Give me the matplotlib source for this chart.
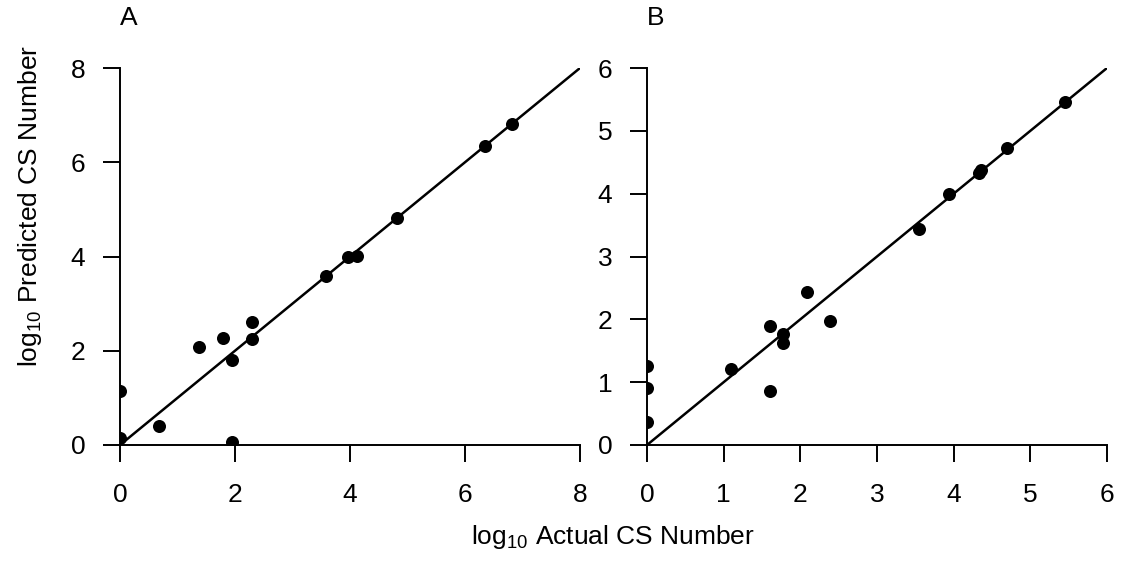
import numpy as np
import matplotlib
matplotlib.use("Agg")
import matplotlib.pyplot as plt

plt.rcParams["font.family"] = ["Liberation Sans", "DejaVu Sans"]
plt.rcParams["mathtext.default"] = "regular"

# Panel A data (log10 actual vs log10 predicted)
a_actual = [0, 0, 0.68, 1.38, 1.79, 1.95, 1.95, 2.30, 2.30, 3.58, 3.97, 4.13, 4.82, 6.35, 6.82]
a_pred = [0.15, 1.15, 0.41, 2.07, 2.26, 1.80, 0.07, 2.24, 2.61, 3.59, 3.99, 4.01, 4.81, 6.35, 6.81]
a_ticks = [0, 2, 4, 6, 8]

# Panel B data
b_actual = [0, 0, 0, 1.09, 1.60, 1.60, 1.78, 1.78, 2.09, 2.39, 3.55, 3.94, 4.33, 4.36, 4.69, 5.45]
b_pred = [1.25, 0.91, 0.36, 1.21, 1.89, 0.86, 1.76, 1.62, 2.44, 1.97, 3.43, 3.99, 4.33, 4.37, 4.72, 5.46]
b_ticks = [0, 1, 2, 3, 4, 5, 6]

W, H = 1126, 562
FS = 19
fig = plt.figure(figsize=(W / 100, H / 100), dpi=100)

# axes boxes in pixels: left, right, top, bottom
boxes = [(120, 580, 68, 445), (647, 1107, 68, 445)]
panels = [("A", a_actual, a_pred, a_ticks), ("B", b_actual, b_pred, b_ticks)]

for (x0, x1, y0, y1), (name, xs, ys, ticks) in zip(boxes, panels):
    ax = fig.add_axes([x0 / W, 1 - y1 / H, (x1 - x0) / W, (y1 - y0) / H])
    ax.axline((0, 0), slope=1, color="black", lw=1.8)
    ax.scatter(xs, ys, s=88, color="black", zorder=3, linewidths=0)
    ax.set_xlim(ticks[0], ticks[-1])
    ax.set_ylim(ticks[0], ticks[-1])
    ax.set_xticks(ticks)
    ax.set_yticks(ticks)
    for side in ["top", "right"]:
        ax.spines[side].set_visible(False)
    for side in ["left", "bottom"]:
        ax.spines[side].set_linewidth(1.4)
    ax.tick_params(direction="out", length=12, width=1.4, labelsize=FS)
    ax.tick_params(axis="x", pad=15)
    ax.tick_params(axis="y", pad=13)
    fig.text(x0 / W, 1 - 6 / H, name, ha="left", va="top", fontsize=FS)

fig.text(613 / W, 1 - 537 / H, "log$_{10}$ Actual CS Number", ha="center", va="center", fontsize=FS)
fig.text(30 / W, 1 - 206 / H, "log$_{10}$ Predicted CS Number", ha="center", va="center",
         rotation=90, fontsize=FS)

fig.savefig("out.png", dpi=100)
